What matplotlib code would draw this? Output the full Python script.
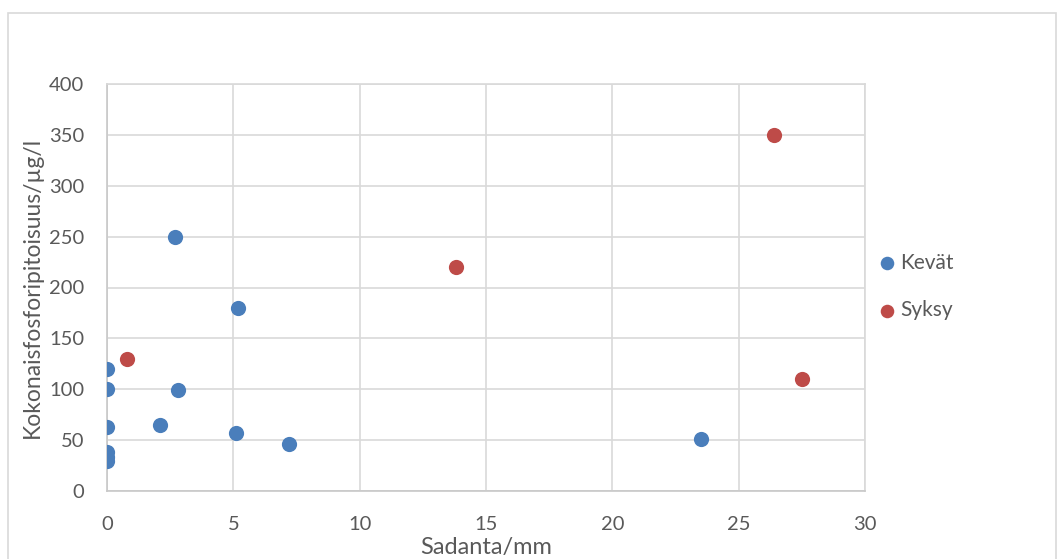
import matplotlib
matplotlib.use("Agg")
import matplotlib.pyplot as plt
from matplotlib.patches import Rectangle

# Rainfall (mm) and total phosphorus (µg/l) per season
kevat_x = [0, 0, 0, 0, 0, 0, 2.7, 5.2, 2.8, 2.1, 5.1, 7.2, 23.5]
kevat_y = [120, 100, 63, 38, 33, 29, 250, 180, 99, 65, 57, 46, 51]
syksy_x = [0.8, 13.8, 26.4, 27.5]
syksy_y = [130, 220, 350, 110]

x_ticks = [0, 5, 10, 15, 20, 25, 30]
y_ticks = [0, 50, 100, 150, 200, 250, 300, 350, 400]

plt.rcParams['font.family'] = ['Lato', 'DejaVu Sans']

W, H = 1058, 559
fig = plt.figure(figsize=(W / 100, H / 100), dpi=100)
ax = fig.add_axes([107 / W, 1 - 491 / H, (865 - 107) / W, (491 - 84) / H])

grid_c = '#d9d9d9'
text_c = '#595959'

ax.scatter(kevat_x, kevat_y, s=120, color='#4a7ebb', label='Kevät', zorder=3, linewidths=0)
ax.scatter(syksy_x, syksy_y, s=120, color='#be4b48', label='Syksy', zorder=3, linewidths=0)

ax.set_xlim(0, 30)
ax.set_ylim(0, 400)
ax.set_xticks(x_ticks)
ax.set_yticks(y_ticks)
ax.grid(True, color=grid_c, linewidth=1.2, zorder=0)
ax.set_axisbelow(True)
for side, sp in ax.spines.items():
    sp.set_color(grid_c)
    sp.set_linewidth(1.2)
ax.spines['bottom'].set_color('#c8c8c8')
ax.spines['left'].set_color('#c8c8c8')
ax.tick_params(length=0, labelsize=14.5, labelcolor=text_c)
ax.tick_params(axis='x', pad=18)
ax.tick_params(axis='y', pad=16.5)

ax.set_xlabel('Sadanta/mm', fontsize=17, color=text_c, labelpad=3)
ax.set_ylabel('Kokonaisfosforipitoisuus/µg/l', fontsize=16.5, color=text_c, labelpad=4)

leg = fig.legend(loc='center left', bbox_to_anchor=(868 / W, 1 - 286.5 / H),
                 frameon=False, fontsize=15, labelcolor=text_c,
                 handlelength=1.0, handletextpad=0.15,
                 labelspacing=1.3, borderaxespad=0)
for h in leg.legend_handles:
    h.set_sizes([95])

# Chart area frame
fig.patches.append(Rectangle((8 / W, -0.05), (W - 10) / W, 1 - 13 / H + 0.05,
                             transform=fig.transFigure, fill=False,
                             edgecolor=grid_c, linewidth=1.2))

fig.savefig('out.png', dpi=100)
